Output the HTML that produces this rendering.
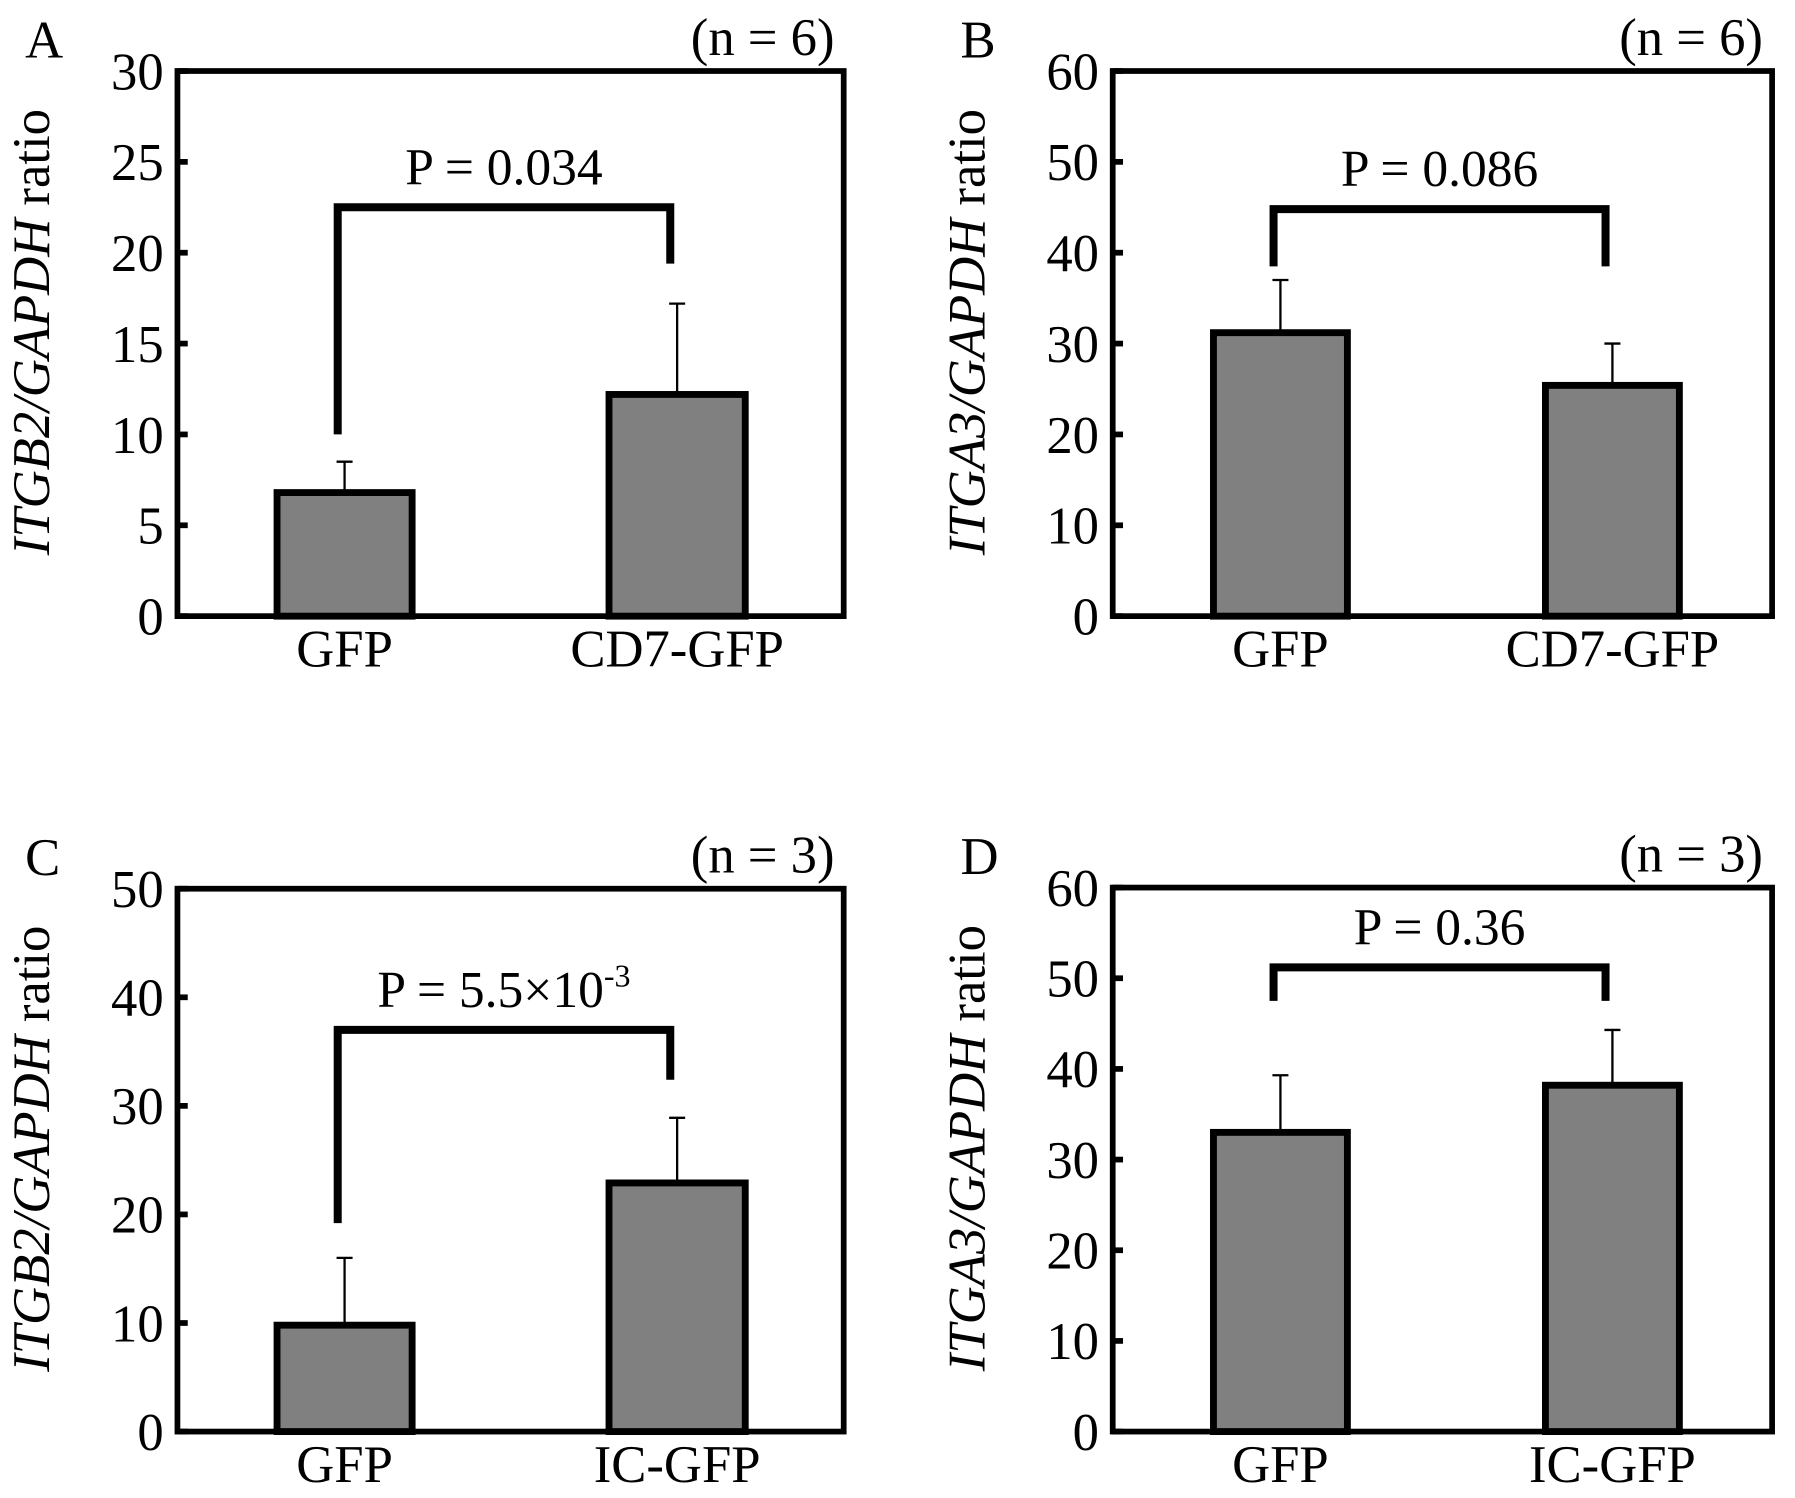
<!DOCTYPE html>
<html><head><meta charset="utf-8"><style>
html,body{margin:0;padding:0;background:#fff;}
svg{display:block;font-family:"Liberation Serif",serif;}
</style></head><body>
<svg id="fig" width="1795" height="1498" viewBox="0 0 1568 1308" preserveAspectRatio="none" xmlns="http://www.w3.org/2000/svg"></svg>
<script>
const panelLetters = ['A','B','C','D'];
const panelN = ['(n = 6)','(n = 6)','(n = 3)','(n = 3)'];
const panelGene = ['ITGB2','ITGA3','ITGB2','ITGA3'];
const panelCats = [['GFP','CD7-GFP'],['GFP','CD7-GFP'],['GFP','IC-GFP'],['GFP','IC-GFP']];
const panelMeans = [[6.8,12.2],[31.2,25.4],[9.8,22.9],[33,38.2]];
const panelErrs = [[8.5,17.2],[37,30],[16,28.9],[39.3,44.3]];
const panelMax = [30,60,50,60];
const panelStep = [5,10,10,10];
const panelP = ['P = 0.034','P = 0.086','P = 5.5×10','P = 0.36'];
const panelBracketY = [22.5,44.8,37,51.2];
const panelBracketL = [10,38.5,19.2,47.5];
const panelBracketR = [19.4,38.5,32.4,47.5];

const NS='http://www.w3.org/2000/svg';
const svg=document.getElementById('fig');
function mk(tag,attrs,parent){const e=document.createElementNS(NS,tag);for(const k in attrs)e.setAttribute(k,attrs[k]);(parent||svg).appendChild(e);return e;}

const boxes=[{x0:155,x1:737,y0:62,y1:538},{x0:972,x1:1548,y0:62,y1:538},{x0:155,x1:737,y0:776,y1:1250},{x0:972,x1:1548,y0:775,y1:1250}];
const barX=[[242,360],[532,651]];
const barXB=[[1060,1177],[1350,1467]];

for(let p=0;p<4;p++){
  const b=boxes[p];
  const g=mk('g',{});
  
  
  const y=v=>b.y1-(v/panelMax[p])*(b.y1-b.y0);
  const bx=(p%2===0)?barX:barXB;
  for(let i=0;i<2;i++){
    const cx=(bx[i][0]+bx[i][1])/2;
    const eb=mk('line',{x1:cx,x2:cx,y1:y(panelMeans[p][i]),y2:y(panelErrs[p][i]),stroke:'#000','stroke-width':2},g);
    
    
    const cap=mk('line',{x1:cx-7,x2:cx+7,y1:y(panelErrs[p][i]),y2:y(panelErrs[p][i]),stroke:'#000','stroke-width':2},g);
    
    
    const r=mk('rect',{x:bx[i][0],y:y(panelMeans[p][i]),width:bx[i][1]-bx[i][0],height:b.y1-y(panelMeans[p][i]),fill:'#808080',stroke:'#000','stroke-width':6},g);
    
    
    const t=mk('text',{x:cx,y:b.y1+44,'font-size':46,'text-anchor':'middle'},g);
    t.textContent=panelCats[p][i];
    
    
  }
  const fr=mk('rect',{x:b.x0,y:b.y0,width:b.x1-b.x0,height:b.y1-b.y0,fill:'none',stroke:'#000','stroke-width':5},g);
  
  
  for(let v=0;v<=panelMax[p];v+=panelStep[p]){
    const tk=mk('line',{x1:b.x0,x2:b.x0+9,y1:y(v),y2:y(v),stroke:'#000','stroke-width':5},g);
    
    
    const tl=mk('text',{x:b.x0-12,y:y(v)+16,'font-size':46,'text-anchor':'end'},g);
    tl.textContent=v;
    
    
  }
  const yl=mk('text',{transform:'translate('+(b.x0-112)+','+((b.y0+b.y1)/2-10)+') rotate(-90)','font-size':46,'text-anchor':'middle'},g);
  yl.innerHTML='<tspan font-style="italic">'+panelGene[p]+'/GAPDH</tspan> ratio';
  
  
  const lx=(bx[0][0]+bx[0][1])/2-6, rx=(bx[1][0]+bx[1][1])/2-6;
  const br=mk('path',{d:'M'+lx+' '+y(panelBracketL[p])+' V'+y(panelBracketY[p])+' H'+rx+' V'+y(panelBracketR[p]),fill:'none',stroke:'#000','stroke-width':7},g);
  
  
  const pt=mk('text',{x:(lx+rx)/2,y:y(panelBracketY[p])-20,'font-size':45,'text-anchor':'middle'},g);
  pt.textContent=panelP[p];
  if(p===2){const s=mk('tspan',{dy:-18,'font-size':28},pt);s.textContent='-3';}
  
  
  const lt=mk('text',{x:b.x0-133,y:b.y0-12,'font-size':46},g);
  lt.textContent=panelLetters[p];
  
  
  const nt=mk('text',{x:b.x1-8,y:b.y0-14,'font-size':46,'text-anchor':'end'},g);
  nt.textContent=panelN[p];
  
  
}
</script>
</body></html>
